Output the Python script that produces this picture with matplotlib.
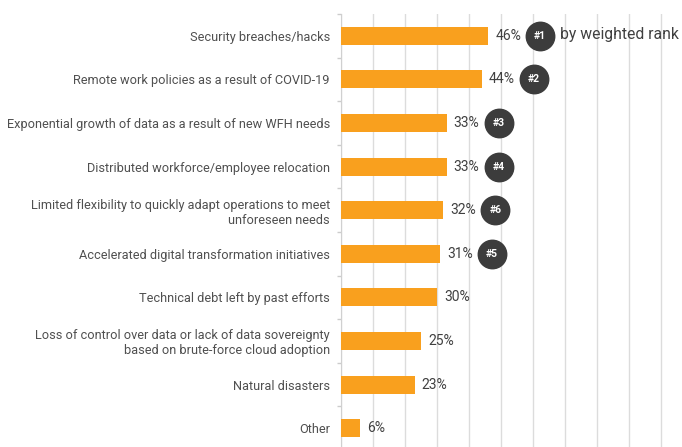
import matplotlib
matplotlib.use("Agg")
import matplotlib.pyplot as plt
from matplotlib.transforms import offset_copy

plt.rcParams['font.family'] = ['Roboto', 'DejaVu Sans']

categories = [
    "Security breaches/hacks",
    "Remote work policies as a result of COVID-19",
    "Exponential growth of data as a result of new WFH needs",
    "Distributed workforce/employee relocation",
    "Limited flexibility to quickly adapt operations to meet\nunforeseen needs",
    "Accelerated digital transformation initiatives",
    "Technical debt left by past efforts",
    "Loss of control over data or lack of data sovereignty\nbased on brute-force cloud adoption",
    "Natural disasters",
    "Other",
]
values = [46, 44, 33, 33, 32, 31, 30, 25, 23, 6]
ranks = ["#1", "#2", "#3", "#4", "#6", "#5", None, None, None, None]

fig = plt.figure(figsize=(6.82, 4.47), dpi=100)
ax = fig.add_axes([0.5, -0.0067, 0.5, 0.9754])

y = list(range(len(categories)))
ax.barh(y, values, height=0.41, color='#F9A01E', zorder=3)
ax.set_xlim(0, 106.5)
ax.set_ylim(len(categories) - 0.5, -0.5)

ax.set_xticks(range(0, 101, 10))
ax.xaxis.grid(True, color='#dcdcdc', lw=1, zorder=0)
ax.tick_params(axis='x', length=0, labelbottom=False)
ax.set_yticks(y)
ax.set_yticklabels(categories, fontsize=9.2, color='#505050')
ax.tick_params(axis='y', length=0, pad=8)
# small ticks between categories
ax.set_yticks([i + 0.5 for i in range(-1, len(categories))], minor=True)
ax.tick_params(axis='y', which='minor', length=3, color='#cccccc', width=1)

for s in ['top', 'right', 'bottom']:
    ax.spines[s].set_visible(False)
ax.spines['left'].set_color('#d0d0d0')

for i, v in enumerate(values):
    ax.text(v, i, f"{v}%", transform=offset_copy(ax.transData, fig, x=7, y=0, units='dots'),
            va='center', ha='left', fontsize=10, color='#404040')
    r = ranks[i]
    if r:
        ax.scatter(v + 16.2, i, s=420, color='#3c3c3c', zorder=4, clip_on=False)
        ax.text(v + 16.2, i, r, ha='center', va='center', fontsize=7.5,
                fontweight='bold', color='white', zorder=5)

ax.text(values[0] + 16.2, 0, "by weighted rank",
        transform=offset_copy(ax.transData, fig, x=20, y=1, units='dots'),
        ha='left', va='center', fontsize=11.3, color='#404040')

fig.savefig("out.png", dpi=100)
